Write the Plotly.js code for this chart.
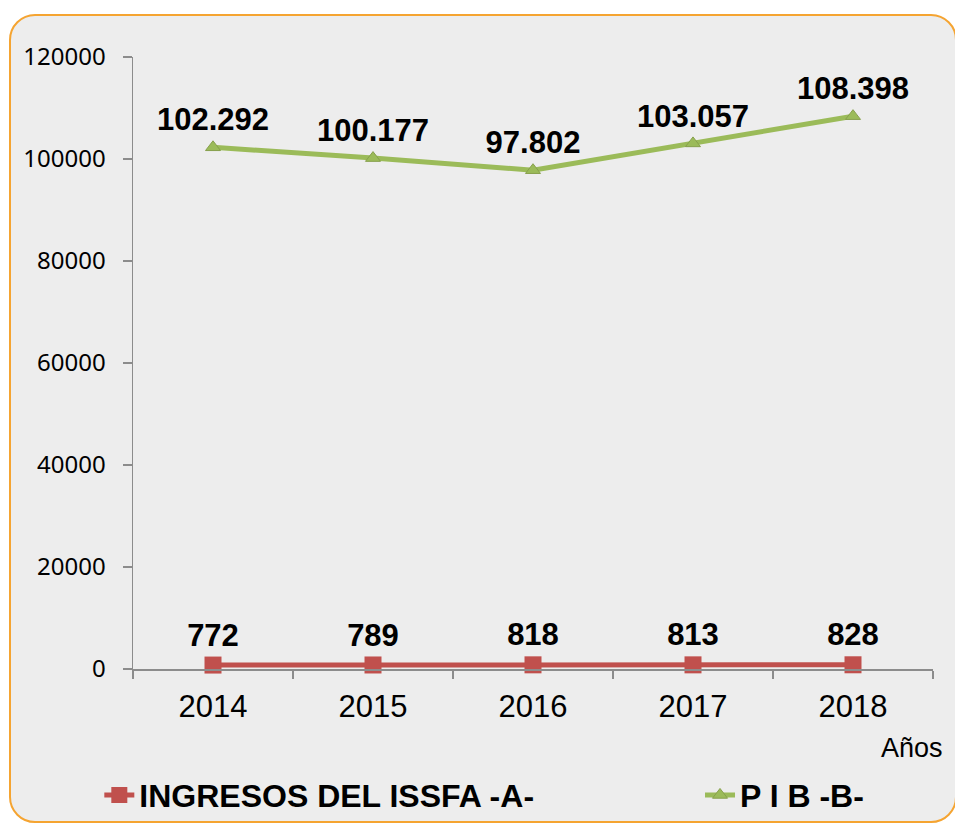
<!DOCTYPE html>
<html>
<head>
<meta charset="utf-8">
<script src="https://cdn.plot.ly/plotly-3.0.1.min.js"></script>
<style>
  html, body { margin:0; padding:0; background:#ffffff; overflow:hidden; }
  #frame { position:absolute; left:9px; top:14px; width:948px; height:809px; box-sizing:border-box;
           border:2px solid #f5a431; border-radius:26px; background:#ededed; }
  #chart { position:absolute; left:0; top:0; width:955px; height:824px; }
</style>
</head>
<body>
<div id="frame"></div>
<div id="chart"></div>
<script>
const years = ['2014', '2015', '2016', '2017', '2018'];
const ingresosISSFA = [772, 789, 818, 813, 828];
const pib = [102292, 100177, 97802, 103057, 108398];
const ingresosLabels = ['772', '789', '818', '813', '828'];
const pibLabels = ['102.292', '100.177', '97.802', '103.057', '108.398'];
const yTicks = [0, 20000, 40000, 60000, 80000, 100000, 120000];

const labelFont = { family: 'Liberation Sans, Arial, sans-serif', size: 31, color: '#000000', weight: 'bold' };
const legendFont = { family: 'Liberation Sans, Arial, sans-serif', size: 32, color: '#000000', weight: 'bold' };

const traces = [
  {
    x: years, y: ingresosISSFA, name: 'INGRESOS DEL ISSFA -A-', type: 'scatter', mode: 'lines+markers+text',
    line: { color: '#c0504d', width: 5 },
    marker: { symbol: 'square', size: 17, color: '#c0504d' },
    text: ingresosLabels, textposition: 'top center', textfont: labelFont, cliponaxis: false,
    legend: 'legend'
  },
  {
    x: years, y: pib, name: 'P I B -B-', type: 'scatter', mode: 'lines+markers+text',
    line: { color: '#9bbb59', width: 5 },
    marker: { symbol: 'triangle-up', size: 13, color: '#9bbb59', line: { color: '#87a04c', width: 1 } },
    text: pibLabels, textposition: 'top center', textfont: labelFont, cliponaxis: false,
    legend: 'legend2'
  }
];

const layout = {
  width: 955, height: 824,
  paper_bgcolor: 'rgba(0,0,0,0)', plot_bgcolor: 'rgba(0,0,0,0)',
  margin: { l: 133, r: 22, t: 57, b: 155 },
  showlegend: true,
  legend: {
    orientation: 'h', xref: 'container', yref: 'container', x: 0.104, xanchor: 'left', y: 0.035, yanchor: 'middle',
    font: legendFont, bgcolor: 'rgba(0,0,0,0)'
  },
  legend2: {
    orientation: 'h', xref: 'container', yref: 'container', x: 0.733, xanchor: 'left', y: 0.035, yanchor: 'middle',
    font: legendFont, bgcolor: 'rgba(0,0,0,0)'
  },
  xaxis: {
    type: 'category', range: [-0.5, 4.5], tickson: 'boundaries',
    showline: true, linecolor: '#8c8c8c', linewidth: 1.5,
    ticks: 'outside', ticklen: 8, tickcolor: '#8c8c8c', tickwidth: 1.5,
    showgrid: false, zeroline: false, ticklabelstandoff: 9,
    tickfont: { family: 'Liberation Sans, Arial, sans-serif', size: 31, color: '#000000' }
  },
  yaxis: {
    range: [0, 120000], tickvals: yTicks, ticktext: yTicks.map(String),
    showline: true, linecolor: '#8c8c8c', linewidth: 1.5,
    ticks: 'outside', ticklen: 9, tickcolor: '#8c8c8c', tickwidth: 1.5,
    showgrid: false, zeroline: false, ticklabelstandoff: 12,
    tickfont: { family: 'Noto Sans, sans-serif', size: 24, color: '#000000' }
  },
  annotations: [
    { text: 'Años', xref: 'paper', yref: 'paper', x: 1.015, y: -0.129, xanchor: 'right', yanchor: 'middle',
      showarrow: false, font: { family: 'Liberation Sans, Arial, sans-serif', size: 27, color: '#000000' } }
  ]
};

Plotly.newPlot('chart', traces, layout, { displayModeBar: false, staticPlot: true });
</script>
</body>
</html>
